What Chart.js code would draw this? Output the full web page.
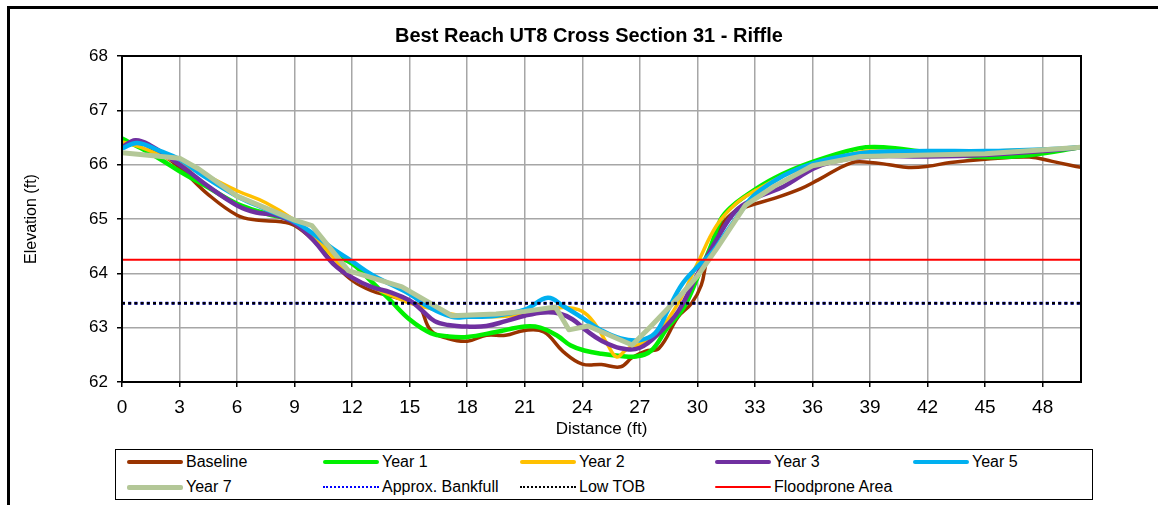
<!DOCTYPE html>
<html>
<head>
<meta charset="utf-8">
<title>Best Reach UT8 Cross Section 31 - Riffle</title>
<script src="https://cdn.jsdelivr.net/npm/chart.js@4.4.1/dist/chart.umd.min.js"></script>
<style>
  body { margin: 0; background: #fff; }
  #wrap { position: relative; width: 1158px; height: 505px; overflow: hidden; font-family: 'Liberation Sans', Arial, sans-serif; }
  #frame { position: absolute; left: 7px; top: 6px; width: 1300px; height: 700px; border-left: 3px solid #000; border-top: 3px solid #000; }
  canvas { position: absolute; left: 0; top: 0; }
  #legend { position: absolute; left: 115px; top: 449px; width: 976px; height: 49px; border: 1px solid #000; background: #fff; }
  .item { position: absolute; height: 18px; display: flex; align-items: center; font-size: 16px; color: #000; white-space: nowrap; }
  .swatch { width: 56px; margin-right: 3px; }
</style>
</head>
<body>
<div id="wrap">
  <div id="frame"></div>
  <canvas id="xsChart" width="1158" height="505"></canvas>
  <div id="legend"></div>
</div>
<script>
// surveyed cross section, station (ft) vs elevation (ft)
const baselineDist = [0, 0.8, 2, 3, 4.5, 6, 7, 8.3, 9, 10, 11, 12, 13, 14, 15, 15.5, 16.1, 17, 18, 19, 20, 21, 22, 23, 24, 25, 26, 26.6, 27.3, 28, 29, 29.7, 30.2, 30.5, 31.1, 31.8, 32.5, 34, 35.4, 36.3, 38, 39, 40, 41, 42, 43.2, 45, 47.3, 48.5, 50];
const baselineElev = [66.35, 66.42, 66.2, 65.95, 65.45, 65.07, 64.98, 64.95, 64.88, 64.6, 64.2, 63.87, 63.68, 63.58, 63.48, 63.4, 62.95, 62.8, 62.75, 62.86, 62.86, 62.95, 62.92, 62.56, 62.33, 62.32, 62.28, 62.45, 62.57, 62.62, 63.2, 63.45, 63.78, 64.25, 64.8, 65.1, 65.22, 65.38, 65.56, 65.72, 66.03, 66.04, 66.0, 65.95, 65.97, 66.04, 66.1, 66.14, 66.06, 65.95];

const year1Dist = [0, 1, 2, 3, 4.5, 6, 7.5, 9, 10, 11, 12, 13, 14, 15, 16.1, 17, 18, 19.5, 21, 21.8, 22.7, 23.4, 24.1, 25, 26, 26.8, 27.6, 28.4, 29.3, 30, 30.7, 31.2, 31.7, 32.4, 34, 36, 38.4, 39.7, 42, 45, 47.4, 50];
const year1Elev = [66.48, 66.3, 66.1, 65.88, 65.58, 65.28, 65.1, 64.95, 64.62, 64.35, 64.18, 63.85, 63.5, 63.15, 62.9, 62.84, 62.83, 62.92, 63.02, 63.0, 62.85, 62.67, 62.58, 62.52, 62.48, 62.47, 62.58, 62.98, 63.38, 63.92, 64.5, 64.98, 65.2, 65.4, 65.75, 66.05, 66.3, 66.32, 66.23, 66.14, 66.18, 66.32];

const year2Dist = [0, 1, 3, 4.5, 6, 7.5, 9, 10, 11, 12, 13, 14, 15, 16, 17, 18, 19.5, 21, 22, 23, 24, 24.7, 25.3, 25.8, 26.3, 27, 28, 29, 30, 31, 32, 33, 34.5, 36, 37.5, 39, 42, 45, 48, 50];
const year2Elev = [66.42, 66.32, 66.02, 65.78, 65.52, 65.3, 64.98, 64.68, 64.3, 63.92, 63.75, 63.6, 63.45, 63.36, 63.26, 63.22, 63.2, 63.25, 63.3, 63.37, 63.3, 63.05, 62.7, 62.46, 62.6, 62.7, 62.95, 63.45, 64.18, 64.88, 65.28, 65.52, 65.8, 66.02, 66.15, 66.25, 66.22, 66.25, 66.28, 66.32];

const year3Dist = [0, 0.7, 1.5, 3, 4.5, 6, 7, 8, 9, 10, 11, 12, 13, 14, 15, 15.6, 16.3, 17, 18, 19, 20, 21, 22, 22.8, 23.5, 24.2, 25, 26, 27, 28, 29, 30, 31, 32, 33, 34.5, 36, 37, 39, 42, 45, 48, 50];
const year3Elev = [66.32, 66.45, 66.35, 66.0, 65.6, 65.25, 65.12, 65.07, 64.92, 64.6, 64.18, 63.92, 63.75, 63.65, 63.5, 63.33, 63.12, 63.05, 63.02, 63.03, 63.12, 63.22, 63.28, 63.26, 63.15, 62.95, 62.76, 62.62, 62.63, 62.9, 63.3, 63.98, 64.62, 65.15, 65.38, 65.6, 65.92, 66.05, 66.15, 66.15, 66.18, 66.25, 66.32];

const year5Dist = [0, 0.8, 2, 3, 4, 6, 7.5, 9, 10, 11, 12, 13, 14, 15, 16, 17.2, 18, 19.5, 21, 22.2, 23, 24, 25, 26, 27, 27.8, 28.5, 29.2, 30, 30.8, 31.5, 32.4, 33, 34.5, 36, 37.5, 39, 42, 45, 48, 50];
const year5Elev = [66.3, 66.4, 66.25, 66.1, 65.85, 65.42, 65.18, 64.95, 64.72, 64.45, 64.22, 63.98, 63.8, 63.62, 63.38, 63.2, 63.2, 63.22, 63.33, 63.55, 63.4, 63.18, 62.95, 62.8, 62.77, 62.9, 63.35, 63.8, 64.12, 64.4, 64.75, 65.2, 65.45, 65.8, 66.02, 66.15, 66.23, 66.25, 66.25, 66.28, 66.32];

const year7Dist = [0, 3, 4, 6, 9, 9.9, 11.8, 14.6, 17.2, 19.5, 21, 22.6, 23.3, 24.3, 26.6, 27.5, 29, 30, 31, 32.5, 34, 36, 38.5, 45, 50];
const year7Elev = [66.22, 66.12, 65.92, 65.42, 64.98, 64.88, 64.05, 63.75, 63.22, 63.25, 63.3, 63.38, 62.96, 63.03, 62.68, 63.0, 63.55, 63.95, 64.45, 65.25, 65.6, 65.98, 66.15, 66.2, 66.32];

// reference elevations
const bankfullElev = 63.45;
const lowTobElev = 63.45;
const floodproneElev = 64.25;

// axes
const distanceRange = [0, 50];
const distanceTicks = [0, 3, 6, 9, 12, 15, 18, 21, 24, 27, 30, 33, 36, 39, 42, 45, 48];
const elevationTicks = [62, 63, 64, 65, 66, 67, 68];

function toPoints(xs, ys) {
  return xs.map((x, i) => ({ x: x, y: ys[i] }));
}

function levelLine(elev) {
  return distanceRange.map(x => ({ x: x, y: elev }));
}

Chart.defaults.font.family = "'Liberation Sans', Arial, sans-serif";
Chart.defaults.color = '#000';

const gridStyle = {
  color: '#a6a6a6',
  lineWidth: 1.5,
  tickLength: 5,
  tickColor: '#000'
};

// black box around the plot area
const plotFrame = {
  id: 'plotFrame',
  afterDraw(chart) {
    const { ctx, chartArea: a } = chart;
    ctx.save();
    ctx.strokeStyle = '#000';
    ctx.lineWidth = 2;
    ctx.strokeRect(a.left, a.top, a.right - a.left, a.bottom - a.top);
    ctx.restore();
  }
};

function series(label, xs, ys, color, width, order, tension) {
  return {
    label: label,
    data: toPoints(xs, ys),
    borderColor: color,
    backgroundColor: color,
    borderWidth: width,
    tension: tension,
    pointRadius: 0,
    borderJoinStyle: 'round',
    borderCapStyle: 'round',
    order: order
  };
}

const ctx = document.getElementById('xsChart').getContext('2d');

const chart = new Chart(ctx, {
  type: 'scatter',
  data: {
    datasets: [
      series('Baseline', baselineDist, baselineElev, '#993300', 3.5, 8, 0.4),
      series('Year 1', year1Dist, year1Elev, '#00F000', 4.5, 7, 0.4),
      series('Year 2', year2Dist, year2Elev, '#FFC000', 3.5, 6, 0.4),
      series('Year 3', year3Dist, year3Elev, '#7030A0', 4.5, 5, 0.4),
      series('Year 5', year5Dist, year5Elev, '#00B0F0', 4.5, 4, 0.4),
      series('Year 7', year7Dist, year7Elev, '#B3C797', 5, 3, 0),
      {
        label: 'Approx. Bankfull',
        data: levelLine(bankfullElev),
        borderColor: '#0000FF',
        borderWidth: 3,
        borderDash: [3, 3.2],
        pointRadius: 0,
        order: 2
      },
      {
        label: 'Low TOB',
        data: levelLine(lowTobElev),
        borderColor: '#000000',
        borderWidth: 2.5,
        borderDash: [3, 3.2],
        pointRadius: 0,
        order: 1
      },
      {
        label: 'Floodprone Area',
        data: levelLine(floodproneElev),
        borderColor: '#FF0000',
        borderWidth: 2,
        pointRadius: 0,
        order: 0
      }
    ]
  },
  options: {
    responsive: false,
    devicePixelRatio: 1,
    animation: false,
    showLine: true,
    layout: {
      padding: { left: 20, right: 0, top: 0, bottom: 65 }
    },
    plugins: {
      legend: { display: false },
      tooltip: { enabled: false },
      title: {
        display: true,
        text: 'Best Reach UT8 Cross Section 31 - Riffle',
        font: { size: 20, weight: 'bold' },
        color: '#000',
        padding: { top: 24, bottom: 8 }
      }
    },
    scales: {
      x: {
        type: 'linear',
        min: distanceRange[0],
        max: distanceRange[1],
        afterBuildTicks: scale => {
          scale.ticks = distanceTicks.map(v => ({ value: v }));
        },
        afterFit: scale => { scale.height = 58; },
        grid: gridStyle,
        border: { display: false },
        ticks: { font: { size: 19 }, color: '#000', padding: 9, maxRotation: 0, autoSkip: false },
        title: { display: true, text: 'Distance (ft)', font: { size: 17 }, color: '#000', padding: { top: 0, bottom: 0 } }
      },
      y: {
        type: 'linear',
        min: elevationTicks[0],
        max: elevationTicks[elevationTicks.length - 1],
        afterBuildTicks: scale => {
          scale.ticks = elevationTicks.map(v => ({ value: v }));
        },
        afterFit: scale => { scale.width = 102; },
        grid: gridStyle,
        border: { display: false },
        ticks: { font: { size: 17 }, color: '#000', padding: 9 },
        title: { display: true, text: 'Elevation (ft)', font: { size: 16 }, color: '#000', padding: { top: 2, bottom: 0 } }
      },
      // empty right-hand gutter so the title centres over the full frame
      yGutter: {
        position: 'right',
        display: true,
        grid: { display: false, drawTicks: false },
        border: { display: false },
        ticks: { display: false },
        afterFit: scale => { scale.width = 77; }
      }
    }
  },
  plugins: [plotFrame]
});

// legend box, two rows of five
const legendBox = document.getElementById('legend');
const legendCols = [11, 207, 404, 599, 797];
const legendRows = [3, 28];

chart.data.datasets.forEach((ds, i) => {
  const item = document.createElement('div');
  item.className = 'item';
  item.style.left = legendCols[i % 5] + 'px';
  item.style.top = legendRows[Math.floor(i / 5)] + 'px';

  const swatch = document.createElement('span');
  swatch.className = 'swatch';
  if (ds.borderDash) {
    swatch.style.height = '0';
    swatch.style.borderTop = '2px dotted ' + ds.borderColor;
  } else {
    swatch.style.height = Math.max(2, ds.borderWidth) + 'px';
    swatch.style.background = ds.borderColor;
    swatch.style.borderRadius = '2px';
  }

  const text = document.createElement('span');
  text.textContent = ds.label;

  item.appendChild(swatch);
  item.appendChild(text);
  legendBox.appendChild(item);
});
</script>
</body>
</html>
